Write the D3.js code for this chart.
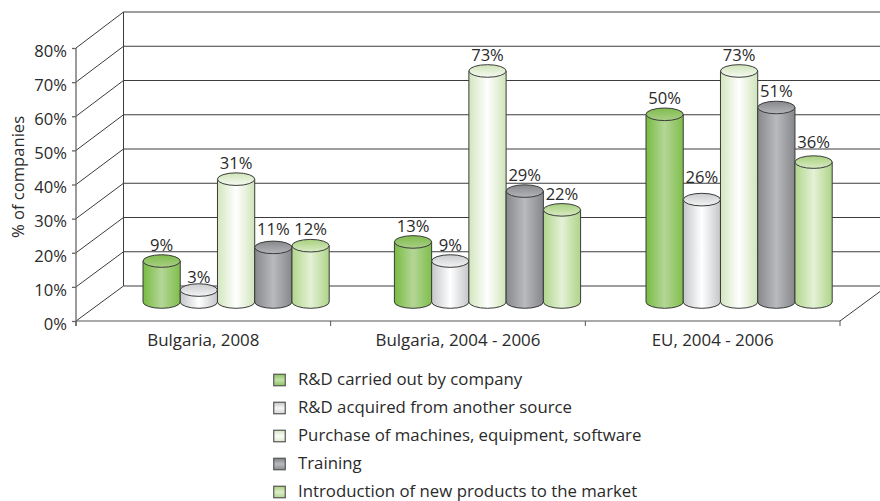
<!DOCTYPE html>
<html><head><meta charset="utf-8">
<script src="https://cdn.jsdelivr.net/npm/d3@7"></script>
<style>html,body{margin:0;padding:0;background:#fff}svg{display:block}text{font-family:"Open Sans",sans-serif;fill:#2a2a2a}</style>
</head><body><svg id="c" width="880" height="501"></svg>
<script>
const categories = ["Bulgaria, 2008", "Bulgaria, 2004 - 2006", "EU, 2004 - 2006"];
const seriesNames = ["R&D carried out by company", "R&D acquired from another source", "Purchase of machines, equipment, software", "Training", "Introduction of new products to the market"];
const yTicks = [0, 10, 20, 30, 40, 50, 60, 70, 80];
// height of each column as read against the axis
const rdCompany = [12, 17.6, 55];
const rdAcquired = [3.5, 12, 30];
const machines = [36, 67.7, 67.7];
const training = [16, 32.5, 57];
const newProducts = [16.5, 27, 41];
// printed data labels
const rdCompanyLabels = ["9%", "13%", "50%"];
const rdAcquiredLabels = ["3%", "9%", "26%"];
const machinesLabels = ["31%", "73%", "73%"];
const trainingLabels = ["11%", "29%", "51%"];
const newProductsLabels = ["12%", "22%", "36%"];

const heights = [rdCompany, rdAcquired, machines, training, newProducts];
const labels = [rdCompanyLabels, rdAcquiredLabels, machinesLabels, trainingLabels, newProductsLabels];
const ramps = [
  {side:["#78bb42","#b4d696","#7fbe4b"], top:["#7fbc4d","#a9cf85"], sw:["#8cc45e","#c5e0ab","#8cc45e"]},
  {side:["#c4c6c9","#ffffff","#c4c6c9"], top:["#c9cbcd","#f4f4f4"], sw:["#c4c6c9","#f6f6f6","#d4d5d7"]},
  {side:["#d2e6bd","#ffffff","#cfe4b9"], top:["#cfe4b9","#f6faf1"], sw:["#d2e6bd","#fbfdf8","#dcebcb"]},
  {side:["#87898d","#b8babe","#85878b"], top:["#86888c","#b3b5b8"], sw:["#7e8084","#b8babe","#8a8c90"]},
  {side:["#b1d68c","#e4f1d6","#aed488"], top:["#a8d07e","#d8ebc4"], sw:["#a8d07e","#dcedc9","#b3d68f"]}
];

const svg = d3.select("#c");
const defs = svg.append("defs");
ramps.forEach((r,i)=>{
  const g = defs.append("linearGradient").attr("id","side"+i);
  r.side.forEach((c,k)=>g.append("stop").attr("offset",k/2).attr("stop-color",c));
  const t = defs.append("linearGradient").attr("id","top"+i).attr("x1",0).attr("x2",0).attr("y1",0).attr("y2",1);
  r.top.forEach((c,k)=>t.append("stop").attr("offset",k).attr("stop-color",c));
  const s = defs.append("linearGradient").attr("id","sw"+i).attr("x1",0).attr("x2",0).attr("y1",0).attr("y2",1);
  r.sw.forEach((c,k)=>s.append("stop").attr("offset",k/2).attr("stop-color",c));
});

const FS = 16.6;
const frontY = d3.scaleLinear().domain([0,80]).range([321,48]);
const backY = d3.scaleLinear().domain([0,80]).range([286,12]);
const frontX = d3.scaleBand().domain(categories).range([76,840]);
const barX = d3.scaleBand().domain(d3.range(5)).paddingInner(0).paddingOuter(0);
const baseY = 302, groupWidth = 186.2;
const barY = v => baseY - (frontY(0)-frontY(v));
const backX = 123.5, dx = backX-76;
const ink = "#3c3c3c";

const grid = svg.append("g");
yTicks.forEach(t=>{
  grid.append("line").attr("x1",backX).attr("x2",880).attr("y1",backY(t)).attr("y2",backY(t)).attr("stroke",ink);
  grid.append("line").attr("x1",76).attr("x2",backX).attr("y1",frontY(t)).attr("y2",backY(t)).attr("stroke",ink);
});
grid.append("line").attr("x1",backX).attr("x2",backX).attr("y1",backY(0)).attr("y2",backY(80)).attr("stroke",ink);
grid.append("line").attr("x1",840).attr("x2",840+dx).attr("y1",321).attr("y2",backY(0)).attr("stroke",ink);

const axL = svg.append("g").attr("transform","translate(76,0)")
  .call(d3.axisLeft(frontY).tickValues(yTicks).tickFormat(d=>d+"%").tickSize(4).tickPadding(5));
axL.selectAll("path,line").attr("stroke","#666").attr("stroke-width",1.3);
axL.select("path").attr("d","M0,48V326");
axL.selectAll("text").attr("font-size",FS).attr("dy","0.5em").attr("font-family",'"Open Sans"').attr("fill","#2a2a2a");

const axB = svg.append("g").attr("transform","translate(0,321)")
  .call(d3.axisBottom(frontX).tickSize(0).tickPadding(13.5));
axB.select("path").attr("d","M76,0H840").attr("stroke","#555").attr("stroke-width",1.2);
axB.selectAll("text").attr("font-size",16.9).attr("font-family",'"Open Sans"').attr("fill","#2a2a2a");
[76].concat(categories.map(c=>frontX(c)+frontX.bandwidth())).forEach(x=>{
  axB.append("line").attr("x1",x).attr("x2",x).attr("y1",0).attr("y2",5).attr("stroke","#555");
});

svg.append("text").attr("transform","translate(24,177) rotate(-90)").attr("text-anchor","middle")
  .attr("font-size",FS).text("% of companies");

const groupStart = [143, 394.4, 646];
const labelGap = (si,gi) => ({"1,0":14,"3,0":19,"4,0":18,"1,2":24,"4,2":21})[si+","+gi] || 17;
categories.forEach((c,gi)=>{
  barX.range([groupStart[gi], groupStart[gi]+groupWidth]);
  const rx = barX.bandwidth()/2, ry = 6.3;
  heights.forEach((s,si)=>{
    const x0 = barX(si), x1 = x0+barX.bandwidth(), top = barY(s[gi]);
    const g = svg.append("g").attr("stroke","#3a3a3a").attr("stroke-width",1);
    g.append("path").attr("d",`M${x0},${top}V${baseY}A${rx},${ry} 0 0 0 ${x1},${baseY}V${top}Z`).attr("fill",`url(#side${si})`);
    g.append("ellipse").attr("cx",x0+rx).attr("cy",top).attr("rx",rx).attr("ry",ry).attr("fill",`url(#top${si})`);
    svg.append("text").attr("x",x0+rx).attr("y",top-labelGap(si,gi)+7).attr("text-anchor","middle").attr("font-size",FS).text(labels[si][gi]);
  });
});

const legY = d3.scalePoint().domain(seriesNames).range([380,492]);
seriesNames.forEach((n,i)=>{
  svg.append("rect").attr("x",273.75).attr("y",legY(n)-5.75).attr("width",11.5).attr("height",11.5)
    .attr("fill",`url(#sw${i})`).attr("stroke","#555").attr("stroke-width",1.2);
  svg.append("text").attr("x",298).attr("y",legY(n)+5).attr("font-size",16.8).text(n);
});
</script></body></html>
